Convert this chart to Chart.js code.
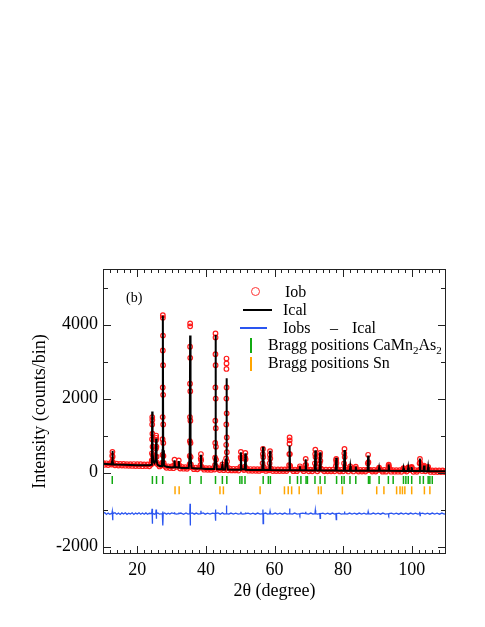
<!DOCTYPE html>
<html>
<head>
<meta charset="utf-8">
<script src="https://cdn.jsdelivr.net/npm/chart.js@4.4.1/dist/chart.umd.min.js"></script>
<style>
  body { margin: 0; background: #fff; }
  #wrap { position: relative; width: 485px; height: 627px; font-family: 'Liberation Serif', 'Times New Roman', serif; }
  #c { position: absolute; left: 0; top: 0; }
  .t { position: absolute; font-size: 16px; line-height: 16px; color: #000; white-space: nowrap; }
  .t sub { font-size: 11px; line-height: 0; vertical-align: -4px; }
  .sym { position: absolute; }
</style>
</head>
<body>
<div id="wrap">
  <canvas id="c" width="485" height="627"></canvas>
  <div class="t" style="left:126px;top:290px;font-size:14px">(b)</div>
  <!-- legend -->
  <div class="sym" style="left:251px;top:287px;width:7px;height:7px;border:1px solid #f33;border-radius:50%"></div>
  <div class="t" style="left:285px;top:284px">Iob</div>
  <div class="sym" style="left:243px;top:309px;width:29px;height:2px;background:#000"></div>
  <div class="t" style="left:283px;top:302px">Ical</div>
  <div class="sym" style="left:240px;top:327px;width:27px;height:1.5px;background:#2a55f0"></div>
  <div class="t" style="left:283px;top:320px">Iobs</div>
  <div class="t" style="left:330px;top:320px">–</div>
  <div class="t" style="left:352px;top:320px">Ical</div>
  <div class="sym" style="left:250px;top:338px;width:2px;height:15px;background:#11aa11"></div>
  <div class="t" style="left:268px;top:337px">Bragg positions CaMn<sub>2</sub>As<sub>2</sub></div>
  <div class="sym" style="left:250px;top:357px;width:2px;height:14px;background:#ffa500"></div>
  <div class="t" style="left:268px;top:355px">Bragg positions Sn</div>
</div>
<script>
// axis tick labels
const xTicks = [20, 40, 60, 80, 100];
const yTicks = [-2000, 0, 2000, 4000];

// Bragg reflection positions (2θ)
const braggCaMn2As2 = [12.7, 24.4, 25.6, 27.4, 35.4, 38.6, 42.8, 44.8, 46.1, 49.9, 50.5, 51.4,
  56.7, 58.2, 58.8, 64.5, 66.7, 67.7, 69.2, 69.6, 71.8, 73.3, 74.7, 78.1, 79.6, 80.3, 82.0,
  83.7, 87.4, 87.8, 90.5, 93.2, 94.6, 97.6, 98.3, 99.0, 100.0, 102.4, 103.4, 104.8, 105.3, 106.0];
const braggSn = [31.0, 32.2, 44.1, 45.1, 55.8, 62.9, 64.0, 65.0, 67.2, 72.8, 73.6, 79.8,
  89.8, 91.9, 95.6, 96.6, 97.3, 98.0, 100.0, 103.7, 105.3];
const braggRowCa = -200;
const braggRowSn = -480;

// calculated profile [2θ, counts]
const ical = [
  [10,235],[11,230],[12,225],[12.5,222],[12.65,300],[12.75,580],[12.85,300],[13.0,220],[14,215],[16,210],
  [18,205],[20,200],[22,198],[23.5,195],[24.1,210],[24.25,500],[24.35,1650],[24.45,520],[24.7,300],
  [25.0,260],[25.35,330],[25.5,920],[25.62,330],[25.9,210],[26.5,180],[27.2,175],[27.35,600],
  [27.45,4240],[27.55,600],[27.75,190],[28.5,155],[30,140],[30.7,150],[30.85,330],[31.0,150],
  [31.9,140],[32.1,310],[32.25,135],[33,125],[35.0,122],[35.28,450],[35.4,3700],[35.52,450],
  [35.8,125],[37,110],[38.4,110],[38.55,480],[38.7,108],[40,98],[42.4,95],[42.68,420],[42.8,3720],
  [42.92,420],[43.2,92],[44.6,88],[44.8,200],[45.0,86],[45.6,86],[45.88,350],[46.0,2550],[46.12,350],
  [46.4,82],[48,78],[50.0,78],[50.2,550],[50.35,90],[51.35,90],[51.5,520],[51.65,78],[53,72],
  [56.45,70],[56.65,700],[56.8,70],[58.55,68],[58.7,590],[58.85,66],[62,62],[64.25,64],[64.4,730],
  [64.55,62],[67.25,60],[67.4,170],[67.55,60],[68.95,60],[69.1,360],[69.25,60],[71.75,58],[71.9,600],
  [72.05,58],[73.15,58],[73.3,550],[73.45,58],[77.85,55],[78.0,400],[78.15,55],[80.25,52],[80.4,610],
  [80.55,52],[81.95,52],[82.1,170],[82.25,52],[83.55,52],[83.7,160],[83.85,52],[87.15,50],[87.3,460],
  [87.45,50],[90.35,48],[90.5,130],[90.65,48],[93.15,46],[93.3,215],[93.45,46],[97.45,44],[97.6,120],
  [97.75,44],[98.85,43],[99.0,140],[99.15,43],[99.85,42],[100.0,150],[100.15,42],[102.25,40],
  [102.4,380],[102.55,40],[103.45,40],[103.6,190],[103.75,39],[104.65,39],[104.8,150],[104.95,38],
  [107,36],[110,35]
];

// observed points [2θ, counts]
const iobs = [
  [10.0,262],[10.5,210],[11.0,250],[11.5,205],[12.0,248],[12.5,215],
  [12.62,300],[12.7,460],[12.75,560],[12.8,430],[12.88,280],
  [13.0,240],[13.5,195],[14.0,238],[14.5,190],[15.0,232],[15.5,188],[16.0,236],[16.5,185],[17.0,228],
  [17.5,182],[18.0,226],[18.5,180],[19.0,230],[19.5,178],[20.0,225],[20.5,175],[21.0,226],[21.5,172],
  [22.0,222],[22.5,175],[23.0,220],[23.5,168],[24.0,215],
  [24.15,260],[24.22,330],[24.27,520],[24.31,900],[24.34,1300],[24.36,1500],[24.38,1420],[24.41,1050],
  [24.45,700],[24.5,470],[24.6,340],[24.8,280],[25.0,265],[25.2,300],
  [25.38,420],[25.44,650],[25.48,880],[25.5,1000],[25.53,940],[25.57,700],[25.63,430],[25.72,270],
  [26.0,215],[26.5,165],[27.0,196],[27.2,200],
  [27.3,270],[27.34,480],[27.37,900],[27.4,1500],[27.42,2300],[27.44,3300],[27.45,4250],[27.46,4180],
  [27.48,3700],[27.5,2900],[27.52,2100],[27.55,1300],[27.58,800],[27.62,450],[27.7,260],
  [28.0,180],[28.5,130],[29.0,170],[29.5,122],[30.0,165],[30.5,118],
  [30.75,200],[30.85,350],[30.95,210],[31.5,155],[32.0,220],[32.1,330],[32.2,200],
  [32.5,110],[33.0,150],[33.5,105],[34.0,145],[34.5,100],[35.0,148],
  [35.25,230],[35.29,450],[35.32,850],[35.35,1500],[35.37,2400],[35.39,3400],[35.4,4030],[35.41,3950],
  [35.43,3100],[35.45,2200],[35.48,1400],[35.51,800],[35.55,420],[35.62,220],
  [36.0,140],[36.5,92],[37.0,135],[37.5,88],[38.0,128],
  [38.42,200],[38.5,380],[38.55,500],[38.62,330],[38.7,160],
  [39.0,125],[39.5,78],[40.0,120],[40.5,75],[41.0,118],[41.5,72],[42.0,115],[42.5,80],
  [42.65,200],[42.69,400],[42.72,800],[42.75,1400],[42.77,2300],[42.79,3200],[42.8,3760],[42.81,3650],
  [42.83,2900],[42.85,2000],[42.88,1200],[42.91,700],[42.95,350],[43.02,160],
  [43.5,112],[44.0,68],[44.5,112],[44.75,160],[44.82,220],[44.9,130],[45.2,65],[45.6,110],
  [45.85,200],[45.89,380],[45.92,750],[45.95,1300],[45.97,2000],[45.99,2800],[46.0,3080],[46.01,2950],
  [46.03,2300],[46.05,1600],[46.08,950],[46.11,550],[46.15,300],[46.22,150],
  [46.5,62],[47.0,105],[47.5,58],[48.0,102],[48.5,58],[49.0,98],[49.5,56],
  [50.05,150],[50.15,420],[50.2,560],[50.27,380],[50.4,120],[50.8,100],[51.1,70],
  [51.38,160],[51.45,400],[51.5,530],[51.57,360],[51.7,110],
  [52.0,98],[52.5,50],[53.0,95],[53.5,48],[54.0,92],[54.5,48],[55.0,92],[55.5,45],[56.0,92],[56.4,70],
  [56.52,250],[56.6,500],[56.65,640],[56.72,420],[56.85,150],
  [57.0,92],[57.5,45],[58.0,90],[58.4,60],
  [58.58,250],[58.65,480],[58.7,580],[58.77,380],[58.9,110],
  [59.0,88],[59.5,42],[60.0,88],[60.5,40],[61.0,85],[61.5,40],[62.0,85],[62.5,40],[63.0,84],[63.5,40],[64.0,88],
  [64.25,200],[64.32,500],[64.37,780],[64.4,950],[64.43,870],[64.48,500],[64.58,180],
  [65.0,84],[65.5,38],[66.0,82],[66.5,38],[67.0,84],[67.3,110],[67.4,170],[67.5,110],
  [68.0,82],[68.5,38],[68.9,90],[69.0,200],[69.1,370],[69.2,210],
  [69.5,84],[70.0,36],[70.5,80],[71.0,36],[71.5,82],
  [71.78,250],[71.85,500],[71.9,620],[71.96,420],[72.05,150],[72.5,36],[73.0,82],
  [73.18,250],[73.25,450],[73.3,530],[73.37,320],[73.5,110],
  [74.0,78],[74.5,34],[75.0,78],[75.5,33],[76.0,77],[76.5,33],[77.0,76],[77.5,34],
  [77.9,180],[77.96,330],[78.0,370],[78.06,260],[78.15,90],
  [78.5,76],[79.0,31],[79.5,75],[80.0,33],
  [80.28,250],[80.35,520],[80.4,640],[80.46,420],[80.55,150],
  [81.0,75],[81.5,30],[82.0,110],[82.1,170],[82.2,110],[82.5,74],[83.0,30],
  [83.6,110],[83.7,160],[83.8,100],
  [84.0,73],[84.5,29],[85.0,72],[85.5,28],[86.0,72],[86.5,28],[87.0,78],
  [87.2,250],[87.3,480],[87.38,280],[87.5,70],
  [88.0,71],[88.5,27],[89.0,70],[89.5,26],[90.0,72],[90.42,100],[90.5,130],[90.58,90],
  [91.0,70],[91.5,25],[92.0,69],[92.5,25],[93.0,82],[93.25,180],[93.3,215],[93.38,150],
  [93.8,77],[94.0,24],[94.5,68],[95.0,23],[95.5,67],[96.0,23],[96.5,67],[97.0,22],
  [97.55,100],[97.6,120],[97.68,80],[98.0,66],[98.5,28],[98.95,120],[99.0,140],[99.06,100],
  [99.5,70],[99.95,130],[100.0,150],[100.06,110],
  [100.5,20],[101.0,64],[101.5,19],[102.0,67],
  [102.3,250],[102.4,370],[102.48,260],[102.6,100],[103.0,40],[103.3,100],
  [103.55,160],[103.6,190],[103.68,140],[104.0,35],[104.4,80],
  [104.75,130],[104.8,150],[104.88,100],
  [105.2,62],[105.5,17],[106.0,60],[106.5,16],[107.0,59],[107.5,15],[108.0,58],[108.5,14],
  [109.0,57],[109.5,13],[110.0,50]
];

// difference curve Iobs - Ical (shifted) [2θ, counts]
const diff = [
  [10,-1110],[10.5,-1080],[11,-1130],[11.5,-1095],[12,-1125],[12.6,-1100],[12.7,-1050],[12.8,-1290],
  [12.9,-1110],[13.5,-1085],[14,-1125],[14.5,-1095],[15,-1130],[15.5,-1090],[16,-1120],[16.5,-1085],
  [17,-1128],[17.5,-1098],[18,-1122],[18.5,-1088],[19,-1130],[19.5,-1095],[20,-1120],[20.5,-1086],
  [21,-1126],[21.5,-1094],[22,-1124],[22.5,-1090],[23,-1128],[23.5,-1100],
  [24.2,-1110],[24.3,-980],[24.38,-1380],[24.45,-1100],[25.0,-1125],[25.4,-1100],[25.48,-1000],
  [25.55,-1250],[25.62,-1110],[26.0,-1090],[26.5,-1124],[27.3,-1110],[27.4,-1050],[27.47,-1430],
  [27.55,-1110],[28,-1090],[28.5,-1125],[29,-1096],[29.5,-1122],[30,-1092],
  [30.8,-1110],[30.85,-1070],[30.9,-1110],[31.5,-1124],[32.05,-1110],[32.1,-1080],[32.15,-1110],
  [32.7,-1094],[33.5,-1126],[34.2,-1092],[34.8,-1120],
  [35.3,-1110],[35.38,-840],[35.44,-1430],[35.5,-1110],[36,-1092],[36.6,-1124],[37.2,-1094],
  [37.8,-1120],[38.5,-1110],[38.55,-1030],[38.6,-1110],[39.2,-1092],[39.8,-1124],[40.5,-1096],
  [41.2,-1122],[41.9,-1094],[42.7,-1110],[42.77,-1000],[42.83,-1300],[42.9,-1110],[43.5,-1092],
  [44.2,-1124],[44.8,-1085],[45.3,-1120],
  [45.9,-1110],[45.97,-890],[46.02,-1050],[46.1,-1110],[46.7,-1124],[47.3,-1094],[48,-1122],
  [48.7,-1096],[49.4,-1120],[50.1,-1110],[50.2,-1060],[50.3,-1110],[50.8,-1124],[51.4,-1110],
  [51.5,-1080],[51.6,-1110],[52.3,-1094],[53,-1122],[53.7,-1096],[54.4,-1124],[55.1,-1094],
  [55.8,-1120],[56.5,-1110],[56.62,-1000],[56.68,-1380],[56.8,-1110],[57.4,-1094],[58,-1120],
  [58.6,-1110],[58.7,-1050],[58.8,-1110],[59.5,-1124],[60.2,-1094],[60.9,-1122],[61.6,-1096],
  [62.3,-1124],[63,-1094],[63.7,-1120],[64.3,-1110],[64.4,-970],[64.5,-1110],[65.2,-1124],
  [65.9,-1094],[66.6,-1120],[67.3,-1110],[67.4,-1140],[67.5,-1110],[68.2,-1094],[69.0,-1110],
  [69.1,-1060],[69.2,-1110],[69.9,-1124],[70.6,-1094],[71.2,-1120],[71.8,-1110],[71.9,-1020],
  [72.0,-1110],[72.6,-1124],[73.2,-1110],[73.3,-1240],[73.4,-1110],[74.1,-1094],[74.8,-1122],
  [75.5,-1096],[76.2,-1124],[76.9,-1094],[77.5,-1120],[77.9,-1110],[78.0,-1270],[78.1,-1110],
  [78.8,-1094],[79.5,-1122],[80.3,-1110],[80.4,-1050],[80.5,-1110],[81.2,-1124],[81.9,-1094],
  [82.6,-1120],[83.3,-1096],[84,-1124],[84.7,-1094],[85.4,-1122],[86.1,-1096],[86.7,-1120],
  [87.2,-1110],[87.3,-1060],[87.4,-1110],[88.1,-1124],[88.8,-1094],[89.5,-1122],[90.2,-1096],
  [90.9,-1124],[91.6,-1094],[92.3,-1120],[93.2,-1110],[93.3,-1140],[93.4,-1110],[94.1,-1094],
  [94.8,-1122],[95.5,-1096],[96.2,-1124],[96.9,-1094],[97.6,-1120],[98.3,-1096],[99,-1124],
  [99.7,-1094],[100.4,-1120],[101.1,-1096],[101.8,-1124],[102.3,-1110],[102.35,-1060],
  [102.45,-1160],[102.5,-1110],[103.2,-1094],[103.9,-1122],[104.6,-1096],[105.3,-1124],
  [106,-1094],[106.7,-1120],[107.4,-1096],[108.1,-1124],[108.8,-1094],[109.5,-1120],[110,-1110]
];

const serif = "'Liberation Serif', 'Times New Roman', serif";
const pts = arr => arr.map(p => ({ x: p[0], y: p[1] }));

// frame and inward ticks on all four sides
const framePlugin = {
  id: 'frame',
  afterDatasetsDraw(chart) {
    const { ctx, chartArea: a, scales: { x, y } } = chart;
    ctx.save();
    ctx.strokeStyle = '#222';
    ctx.lineWidth = 1;
    ctx.strokeRect(a.left + 0.5, a.top + 0.5, a.right - a.left - 1, a.bottom - a.top - 1);
    ctx.beginPath();
    for (let v = 12; v < 110; v += 2) {
      const px = Math.round(x.getPixelForValue(v)) + 0.5;
      const len = xTicks.includes(v) ? 8 : 4;
      ctx.moveTo(px, a.bottom); ctx.lineTo(px, a.bottom - len);
      ctx.moveTo(px, a.top); ctx.lineTo(px, a.top + len);
    }
    for (let v = -2000; v <= 5000; v += 1000) {
      const py = Math.round(y.getPixelForValue(v)) + 0.5;
      const len = yTicks.includes(v) ? 8 : 5;
      ctx.moveTo(a.left, py); ctx.lineTo(a.left + len, py);
      ctx.moveTo(a.right, py); ctx.lineTo(a.right - len, py);
    }
    ctx.stroke();
    ctx.restore();
  }
};

new Chart(document.getElementById('c'), {
  type: 'scatter',
  data: {
    datasets: [
      { label: 'Ical', data: pts(ical), showLine: true, borderColor: '#000', borderWidth: 2,
        pointRadius: 0, order: 0 },
      { label: 'Iob', data: pts(iobs), borderColor: '#ff1a1a', backgroundColor: 'rgba(0,0,0,0)',
        borderWidth: 1.2, pointRadius: 2.3, pointStyle: 'circle', order: 1 },
      { label: 'Iobs - Ical', data: pts(diff), showLine: true, borderColor: '#2a55f0', borderWidth: 1.3,
        pointRadius: 0, order: 2 },
      { label: 'Bragg positions CaMn2As2', data: braggCaMn2As2.map(d => ({ x: d, y: braggRowCa })),
        pointStyle: 'line', rotation: 90, pointRadius: 4, borderColor: '#11aa11', borderWidth: 1.5, order: 3 },
      { label: 'Bragg positions Sn', data: braggSn.map(d => ({ x: d, y: braggRowSn })),
        pointStyle: 'line', rotation: 90, pointRadius: 4, borderColor: '#ffa500', borderWidth: 1.5, order: 4 }
    ]
  },
  options: {
    responsive: false,
    animation: false,
    layout: { padding: { top: 269, right: 39, left: 0, bottom: 0 } },
    plugins: { legend: { display: false }, tooltip: { enabled: false } },
    scales: {
      x: {
        type: 'linear', min: 10, max: 110,
        grid: { display: false, drawTicks: false },
        border: { display: false },
        afterBuildTicks: s => { s.ticks = xTicks.map(v => ({ value: v })); },
        afterFit: s => { s.height = 73; },
        ticks: { padding: 5, color: '#000', font: { family: serif, size: 18 }, maxRotation: 0, autoSkip: false,
          callback: v => String(v) },
        title: { display: true, text: '2θ (degree)', color: '#000', font: { family: serif, size: 18 },
          padding: { top: 0, bottom: 25 } }
      },
      y: {
        min: -2200, max: 5500,
        grid: { display: false, drawTicks: false },
        border: { display: false },
        afterBuildTicks: s => { s.ticks = yTicks.map(v => ({ value: v })); },
        afterFit: s => { s.width = 103; },
        ticks: { padding: 5, color: '#000', font: { family: serif, size: 18 }, callback: v => String(v) },
        title: { display: true, text: 'Intensity (counts/bin)', color: '#000', font: { family: serif, size: 18 },
          padding: { top: 29, bottom: 0 } }
      }
    }
  },
  plugins: [framePlugin]
});
</script>
</body>
</html>
